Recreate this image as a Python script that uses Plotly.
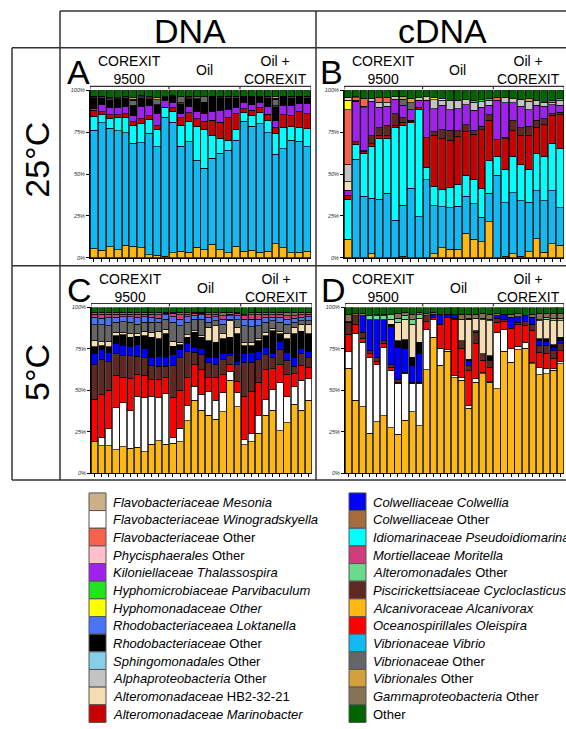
import plotly.graph_objects as go

W, H = 566, 729
FONT = "Liberation Sans, Arial, sans-serif"

# ---------------- legend / colours ----------------
LEGEND_COL1 = ["mesonia", "winogradskyella", "flavo_other", "phycisphaerales", "thalassospira",
               "parvibaculum", "hyphomonadaceae", "loktanella", "rhodo_other", "sphingomonadales",
               "alpha_other", "hb2", "marinobacter"]
LEGEND_COL2 = ["colwellia", "colwelliaceae_other", "pseudoidiomarina", "moritella", "alteromonadales_other",
               "cycloclasticus", "alcanivorax", "oleispira", "vibrio", "vibrionaceae_other",
               "vibrionales_other", "gamma_other", "other"]
LABELS = {
    "mesonia": "<i>Flavobacteriaceae Mesonia</i>",
    "winogradskyella": "<i>Flavobacteriaceae Winogradskyella</i>",
    "flavo_other": "<i>Flavobacteriaceae</i> Other",
    "phycisphaerales": "<i>Phycisphaerales</i> Other",
    "thalassospira": "<i>Kiloniellaceae Thalassospira</i>",
    "parvibaculum": "<i>Hyphomicrobiaceae Parvibaculum</i>",
    "hyphomonadaceae": "<i>Hyphomonadaceae Other</i>",
    "loktanella": "<i>Rhodobacteriaceaea Loktanella</i>",
    "rhodo_other": "<i>Rhodobacteriaceae</i> Other",
    "sphingomonadales": "<i>Sphingomonadales</i> Other",
    "alpha_other": "<i>Alphaproteobacteria</i> Other",
    "hb2": "<i>Alteromonadaceae</i> HB2-32-21",
    "marinobacter": "<i>Alteromonadaceae Marinobacter</i>",
    "colwellia": "<i>Colwelliaceae Colwellia</i>",
    "colwelliaceae_other": "<i>Colwelliaceae</i> Other",
    "pseudoidiomarina": "<i>Idiomarinaceae Pseudoidiomarina</i>",
    "moritella": "<i>Mortiellaceae Moritella</i>",
    "alteromonadales_other": "<i>Alteromonadales</i> Other",
    "cycloclasticus": "<i>Piscirickettsiaceae Cycloclasticus</i>",
    "alcanivorax": "<i>Alcanivoraceae Alcanivorax</i>",
    "oleispira": "<i>Oceanospirillales Oleispira</i>",
    "vibrio": "<i>Vibrionaceae Vibrio</i>",
    "vibrionaceae_other": "<i>Vibrionaceae</i> Other",
    "vibrionales_other": "<i>Vibrionales</i> Other",
    "gamma_other": "<i>Gammaproteobacteria</i> Other",
    "other": "Other",
}
COLORS = {
    "mesonia": "#CDAF88", "winogradskyella": "#FFFFFF", "flavo_other": "#F7634A",
    "phycisphaerales": "#FFC0CB", "thalassospira": "#A020F0", "parvibaculum": "#22E41C",
    "hyphomonadaceae": "#FFFF00", "loktanella": "#4A74F7", "rhodo_other": "#000000",
    "sphingomonadales": "#87CEEB", "alpha_other": "#C4C4C4", "hb2": "#F5DEB3",
    "marinobacter": "#C80000", "colwellia": "#0000FF", "colwelliaceae_other": "#A86B3C",
    "pseudoidiomarina": "#00FFFF", "moritella": "#D03C7C", "alteromonadales_other": "#6ADB8A",
    "cycloclasticus": "#5E2823", "alcanivorax": "#FDB813", "oleispira": "#FF0000",
    "vibrio": "#12B9F2", "vibrionaceae_other": "#666666", "vibrionales_other": "#D4A03C",
    "gamma_other": "#877258", "other": "#006400",
}
STACK_ORDER = ["alcanivorax", "vibrio", "winogradskyella", "pseudoidiomarina", "oleispira",
               "marinobacter", "cycloclasticus", "thalassospira", "colwellia", "rhodo_other",
               "hb2", "alpha_other", "vibrionaceae_other", "loktanella", "flavo_other",
               "hyphomonadaceae", "parvibaculum", "alteromonadales_other", "moritella",
               "vibrionales_other", "mesonia", "gamma_other", "colwelliaceae_other",
               "sphingomonadales", "phycisphaerales", "other"]

GROUP_LABELS = ["COREXIT<br>9500", "Oil", "Oil +<br>COREXIT"]

# ---------------- Panel A: DNA 25°C (28 samples) ----------------
A_GROUPS = [10, 9, 9]
A_ALCANIVORAX = [5.5, 4.5, 6.5, 5, 7.5, 7, 6, 2, 1.5, 1, 3, 4, 3.5, 6.5, 5, 8, 5, 3, 7, 4, 4.5, 3.5, 4, 8.5, 6, 3, 3.5, 4]
A_VIBRIO = [71, 76.5, 70.5, 71, 67.5, 62, 63, 73.5, 64, 83, 78, 63, 66.5, 52, 48.5, 51.5, 57.5, 61.5, 63.5, 77.5, 74, 76.5, 71, 54.5, 59, 67.5, 66, 62.5]
A_PSEUDOIDIOMARINA = [8.5, 5, 6, 7.5, 9, 10.5, 11.5, 8, 10.5, 6, 6.5, 12.5, 12, 20.5, 23, 13.5, 9, 6, 6.5, 5.5, 6.5, 6.5, 7.5, 12.5, 12.5, 8, 8.5, 11]
A_MARINOBACTER = [3.5, 1.5, 2, 2, 2.5, 2.5, 3, 2.5, 2, 0, 2.5, 4.5, 5.5, 4.5, 5, 9, 9.5, 13.5, 9.5, 2, 3, 3.5, 3.5, 4, 8, 7, 9.5, 9]
A_THALASSOSPIRA = [1, 4.5, 4, 4.5, 4.5, 3.5, 7.5, 6.5, 7, 4, 3, 2.5, 3.5, 4, 4.5, 5.5, 7, 5, 3.5, 4, 3.5, 3, 4.5, 4, 5.5, 6, 4.5, 6]
A_RHODO_OTHER = [6.5, 4, 5, 5, 5, 6, 5, 3.5, 5.5, 2, 3.5, 6, 5, 7.5, 7, 8.5, 7.5, 7, 6, 3, 4.5, 3, 5.5, 8.5, 5, 4.5, 4, 3.5]
A_ALPHA_OTHER = [0, 0.5, 0.5, 0, 0.5, 0.5, 0.5, 0, 0, 0, 0, 0.5, 0, 0.5, 0, 0, 0, 0.5, 0.5, 0, 0, 0, 0.5, 0.5, 0, 0.5, 0, 0.5]
A_VIBRIONACEAE_OTHER = [0.5, 0.5, 1, 0.5, 0.5, 3, 1, 0.5, 3, 0, 0.5, 3.5, 0.5, 1, 3, 0.5, 1, 0.5, 0.5, 0.5, 0.5, 0.5, 0.5, 4, 0.5, 0.5, 0.5, 0.5]
A_FLAVO_OTHER = [0.5, 0, 0, 0, 0, 0.5, 0, 0.5, 0, 0, 0, 0, 0.5, 0, 0, 0, 0, 0, 0, 0, 0, 0, 0, 0.5, 0, 0, 0, 0]
A_VIBRIONALES_OTHER = [0, 0, 0, 0, 0, 1, 0, 1, 1.5, 0, 0, 0, 0.5, 0, 0, 0, 0, 0, 0, 0, 0, 0, 0, 1, 0, 0, 0, 0]
A_OTHER = [3.5, 3.5, 4, 4.5, 3.5, 4.5, 3, 3.5, 4, 4, 3, 4, 3.5, 4, 4, 3.5, 3.5, 3.5, 3.5, 3.5, 3.5, 3.5, 3.5, 4, 3.5, 3.5, 3.5, 3.5]

# ---------------- Panel B: cDNA 25°C (28 samples) ----------------
B_GROUPS = [10, 9, 9]
B_ALCANIVORAX = [11, 0, 0, 2.5, 0, 0, 0, 1, 0, 0, 0, 2.5, 6, 5, 5, 14.5, 11, 9.5, 21.5, 0, 1, 2.5, 1, 3.5, 11.5, 3.5, 8.5, 7.5]
B_VIBRIO = [0, 59, 36.5, 33, 35, 38.5, 22.5, 30.5, 41.5, 24.5, 46.5, 28.5, 24.5, 24.5, 25.5, 22, 21, 14.5, 17, 49, 32, 36.5, 33, 29.5, 28.5, 30.5, 31.5, 22.5]
B_PSEUDOIDIOMARINA = [24, 9, 25.5, 31, 36, 33, 55, 47.5, 39, 63.5, 7.5, 11.5, 10.5, 12, 13, 12.5, 14.5, 17, 19.5, 11, 20, 21.5, 21.5, 19.5, 22, 26.5, 28.5, 35]
B_MARINOBACTER = [2.5, 1.5, 1, 1.5, 2, 1.5, 1.5, 2, 1, 1.5, 18, 30, 30.5, 28, 28, 26, 27, 35, 24, 10, 18, 15.5, 17.5, 20, 16, 19, 16.5, 20.5]
B_CYCLOCLASTICUS = [0, 0, 0.5, 5, 5, 6, 7, 2.5, 0.5, 0, 0, 2.5, 5, 6, 3.5, 4, 2, 2, 3.5, 0, 1, 6, 5, 5.5, 4, 3.5, 1, 1.5]
B_THALASSOSPIRA = [3, 24.5, 25.5, 20.5, 12, 11.5, 8.5, 7.5, 6.5, 4, 22, 13.5, 14.5, 12, 13, 12, 12, 11.5, 5.5, 23.5, 20.5, 10.5, 12.5, 10, 9, 7.5, 5.5, 4]
B_HB2 = [5, 0, 0, 0, 0, 0, 0, 0, 0, 0, 0, 0, 0, 0, 0, 0, 0, 0, 0, 0, 0, 0, 0, 0, 0, 0, 0, 0]
B_ALPHA_OTHER = [10, 0.5, 1, 1.5, 3, 2, 1.5, 0, 0, 1.5, 2, 5.5, 3, 5.5, 5, 3, 5, 3.5, 3, 0, 3, 2.5, 4, 5, 3, 2.5, 1.5, 3]
B_VIBRIONACEAE_OTHER = [0, 0, 0, 0, 0, 0, 0, 3.5, 4, 0, 0, 0, 0, 0, 0, 0, 0, 0, 0, 0, 0, 0, 0, 0, 0, 0, 0, 0]
B_FLAVO_OTHER = [33, 1.5, 4.5, 0, 2.5, 3, 0, 0, 0, 0, 0, 0, 0, 0, 0, 0, 0, 0, 0, 1.5, 0, 0, 0, 0, 0, 0, 0, 0]
B_HYPHOMONADACEAE = [5.5, 0, 0, 0, 0, 0, 0, 0, 0, 0, 0, 1, 1, 0, 0, 0, 0, 0, 0, 0, 0, 0, 0, 0, 0, 0, 0, 0]
B_PARVIBACULUM = [0, 0, 0, 0, 0, 0, 0, 0, 0, 0, 0, 0, 0, 0, 0, 0, 1, 1, 1, 0, 0, 0, 0, 0, 0, 0, 1, 1]
B_VIBRIONALES_OTHER = [0, 0, 0, 0, 0, 0, 0, 1.5, 2.5, 0, 0, 0, 0, 0, 0, 0, 0, 0, 0, 0, 0, 0, 0, 1.5, 0, 0, 0, 0]
B_PHYCISPHAERALES = [1.5, 0.5, 0, 0, 0, 0, 0, 0, 0, 0, 0, 0, 0, 0, 0, 0, 0, 0, 0, 0, 0, 0, 0, 0, 0, 0, 0, 0]
B_OTHER = [4.5, 4, 5, 5, 4.5, 4.5, 4, 4, 5, 4.5, 4, 4.5, 5, 6, 6, 5.5, 6, 5.5, 5, 4.5, 4.5, 5, 5.5, 5, 6, 7, 6, 5]

# ---------------- Panel C: DNA 5°C (31 samples) ----------------
C_GROUPS = [11, 10, 10]
C_ALCANIVORAX = [19, 16.5, 16.5, 14, 16, 15, 15.5, 13, 17.5, 19.5, 17.5, 18, 19, 31.5, 44, 38, 35, 32.5, 37, 56, 40, 17, 19, 24, 35, 38, 25.5, 30.5, 41.5, 38, 44]
C_WINOGRADSKYELLA = [0, 5, 10, 25.5, 26.5, 22.5, 31, 32.5, 29, 26, 30.5, 3.5, 8, 9.5, 8.5, 9.5, 14, 11.5, 11.5, 5.5, 8.5, 3.5, 5, 11, 9.5, 12.5, 29, 15.5, 10.5, 18, 13]
C_OLEISPIRA = [25.5, 25.5, 23, 19.5, 15.5, 19.5, 13, 13.5, 10, 11, 9.5, 24, 23, 17, 13, 15, 8.5, 13.5, 11, 4, 7, 26, 25, 20, 18, 12.5, 11, 13.5, 8, 9, 6.5]
C_CYCLOCLASTICUS = [20.5, 21.5, 17.5, 13.5, 13, 14, 11, 10.5, 8.5, 8, 7, 19.5, 19.5, 15.5, 7.5, 9, 9, 8, 9, 5.5, 10, 20, 18, 13.5, 9, 6.5, 9, 8.5, 4.5, 7.5, 6.5]
C_COLWELLIA = [7, 5.5, 5.5, 5.5, 6, 5.5, 7, 5.5, 5, 6, 5, 6.5, 5, 5, 3, 4, 3.5, 4, 3.5, 1.5, 2, 6, 6, 5, 4.5, 3, 5, 5, 5.5, 3, 3.5]
C_RHODO_OTHER = [4, 2.5, 3.5, 5, 6.5, 5.5, 5, 8, 12, 10.5, 14.5, 5, 3, 3.5, 9, 6.5, 10, 9.5, 9, 9.5, 16.5, 4.5, 4, 6.5, 7, 13.5, 4.5, 8, 14, 10, 10.5]
C_HB2 = [3.5, 2.5, 3, 2, 1.5, 2, 1.5, 2.5, 3, 4.5, 3, 3, 1.5, 1.5, 1, 1, 8, 10, 3, 10, 4, 2, 2, 1, 2, 1.5, 1.5, 3.5, 4, 4.5, 6]
C_VIBRIONACEAE_OTHER = [9.5, 10, 9.5, 6, 6.5, 7, 6, 5.5, 6, 5.5, 6, 11.5, 10, 7.5, 7, 10, 3, 3, 6, 1, 4.5, 10, 9.5, 8, 6, 4.5, 5.5, 5.5, 3, 2, 2]
C_LOKTANELLA = [4.5, 4, 5, 3, 3, 3.5, 4, 3.5, 3, 2.5, 2.5, 3.5, 4, 3.5, 2, 2.5, 3, 2.5, 3, 2, 2.5, 4, 4.5, 4, 3, 2, 3, 3, 2.5, 2, 2.5]
C_MORITELLA = [2, 2.5, 2, 2, 1.5, 1.5, 2, 1.5, 2, 2, 1, 2, 2.5, 1.5, 1.5, 1, 1.5, 1.5, 2, 1, 1.5, 2, 2.5, 2.5, 2, 1.5, 2, 2, 1.5, 1.5, 1.5]
C_GAMMA_OTHER = [1, 1, 1, 1, 1, 1, 1, 1, 1, 1.5, 0.5, 0.5, 1.5, 1, 0.5, 0.5, 1.5, 1, 2, 1, 0.5, 1, 1.5, 1.5, 1, 1.5, 1, 2, 2, 1.5, 1]
C_OTHER = [3, 3, 3, 3, 3, 3, 3, 3, 3, 3, 3, 3, 3, 3, 3, 3, 3, 3, 3, 3, 3, 4, 3, 3, 3, 3, 3, 3, 3, 3, 3]

# ---------------- Panel D: cDNA 5°C (31 samples) ----------------
D_GROUPS = [11, 10, 10]
D_ALCANIVORAX = [63, 44, 40, 24, 31, 34.5, 27.5, 23.5, 32, 37, 28.5, 62.5, 82, 65, 73.5, 57.5, 56, 39, 55, 60, 55, 51, 73.5, 67, 74.5, 75.5, 66, 59.5, 60, 62, 66]
D_WINOGRADSKYELLA = [10, 40.5, 39, 46, 34.5, 41.5, 34.5, 30.5, 28, 17, 25.5, 24, 10.5, 10.5, 1, 1.5, 1.5, 1.5, 2, 0.5, 0.5, 34, 13, 8, 2, 3.5, 1, 4, 3, 1, 1.5]
D_OLEISPIRA = [10.5, 5.5, 2.5, 2, 2, 2, 2, 1, 0, 0, 0, 5, 1.5, 14.5, 19.5, 34, 17.5, 21, 21, 7.5, 8.5, 6, 5, 12.5, 13.5, 10, 19, 9.5, 9.5, 6, 6.5]
D_CYCLOCLASTICUS = [7, 5, 3.5, 2, 2, 2, 1.5, 1.5, 1, 1, 1, 3.5, 0, 0, 0, 0.5, 5, 3, 7, 4, 4, 2.5, 1.5, 0, 1, 2.5, 4, 4, 4.5, 5, 4]
D_COLWELLIA = [0, 0, 10, 18.5, 23, 12.5, 23, 19.5, 14.5, 10, 17.5, 0, 2, 5.5, 2, 2, 0, 3, 1, 0, 0, 1.5, 3, 6.5, 3.5, 3.5, 4, 3, 2.5, 2, 2]
D_RHODO_OTHER = [0, 0, 0, 0, 0, 0, 1.5, 4, 5, 5, 6.5, 0, 0, 0, 0, 0, 0, 1, 0, 0, 3, 0, 0, 0, 0, 0, 0, 1, 1.5, 1.5, 2]
D_HB2 = [0.5, 0, 0, 0, 0, 0, 3, 11, 12.5, 20, 14.5, 0, 0, 0, 0, 0, 13, 24, 7.5, 20.5, 21, 0, 0, 0, 0, 0, 0, 11, 12, 14.5, 10]
D_ALTEROMONADALES_OTHER = [0, 0, 0, 2.5, 2.5, 2.5, 3, 2.5, 2, 2.5, 2, 0, 0, 0, 0, 0, 0, 0.5, 0, 1, 1, 0, 0, 0, 0, 0, 0, 0.5, 1, 1.5, 1.5]
D_GAMMA_OTHER = [4, 1.5, 1.5, 0, 0.5, 1, 0, 3, 2, 3, 1.5, 1.5, 1, 0, 0, 0, 3, 2.5, 2.5, 3, 3, 1.5, 0, 2, 2, 0, 2, 4, 2.5, 3, 3]
D_OTHER = [4.5, 3.5, 3.5, 5, 4.5, 4, 4, 3.5, 3, 4.5, 3, 3.5, 3, 4.5, 4, 4.5, 4, 4, 4, 3.5, 4, 3.5, 4, 4, 3.5, 5, 4, 3.5, 3.5, 3.5, 3.5]

PANELS = [
    dict(letter="A", groups=A_GROUPS, box=(90, 88, 311, 257), data={
        "alcanivorax": A_ALCANIVORAX, "vibrio": A_VIBRIO, "pseudoidiomarina": A_PSEUDOIDIOMARINA,
        "marinobacter": A_MARINOBACTER, "thalassospira": A_THALASSOSPIRA, "rhodo_other": A_RHODO_OTHER,
        "alpha_other": A_ALPHA_OTHER, "vibrionaceae_other": A_VIBRIONACEAE_OTHER,
        "flavo_other": A_FLAVO_OTHER, "vibrionales_other": A_VIBRIONALES_OTHER, "other": A_OTHER}),
    dict(letter="B", groups=B_GROUPS, box=(344, 88, 564, 257), data={
        "alcanivorax": B_ALCANIVORAX, "vibrio": B_VIBRIO, "pseudoidiomarina": B_PSEUDOIDIOMARINA,
        "marinobacter": B_MARINOBACTER, "cycloclasticus": B_CYCLOCLASTICUS, "thalassospira": B_THALASSOSPIRA,
        "hb2": B_HB2, "alpha_other": B_ALPHA_OTHER, "vibrionaceae_other": B_VIBRIONACEAE_OTHER,
        "flavo_other": B_FLAVO_OTHER, "hyphomonadaceae": B_HYPHOMONADACEAE, "parvibaculum": B_PARVIBACULUM,
        "vibrionales_other": B_VIBRIONALES_OTHER, "phycisphaerales": B_PHYCISPHAERALES, "other": B_OTHER}),
    dict(letter="C", groups=C_GROUPS, box=(91, 307, 312, 474), data={
        "alcanivorax": C_ALCANIVORAX, "winogradskyella": C_WINOGRADSKYELLA, "oleispira": C_OLEISPIRA,
        "cycloclasticus": C_CYCLOCLASTICUS, "colwellia": C_COLWELLIA, "rhodo_other": C_RHODO_OTHER,
        "hb2": C_HB2, "vibrionaceae_other": C_VIBRIONACEAE_OTHER, "loktanella": C_LOKTANELLA,
        "moritella": C_MORITELLA, "gamma_other": C_GAMMA_OTHER, "other": C_OTHER}),
    dict(letter="D", groups=D_GROUPS, box=(345, 307, 564, 474), data={
        "alcanivorax": D_ALCANIVORAX, "winogradskyella": D_WINOGRADSKYELLA, "oleispira": D_OLEISPIRA,
        "cycloclasticus": D_CYCLOCLASTICUS, "colwellia": D_COLWELLIA, "rhodo_other": D_RHODO_OTHER,
        "hb2": D_HB2, "alteromonadales_other": D_ALTEROMONADALES_OTHER, "gamma_other": D_GAMMA_OTHER,
        "other": D_OTHER}),
]


def px(x):
    return x / W


def py(y):
    return 1 - y / H


fig = go.Figure()
layout = dict(
    width=W, height=H, margin=dict(l=0, r=0, t=0, b=0),
    paper_bgcolor="white", plot_bgcolor="white",
    barmode="stack", barnorm="percent", bargap=0.12,
    showlegend=False, font=dict(family=FONT, color="black"),
)
shapes = []
annotations = []

for i, p in enumerate(PANELS):
    sfx = "" if i == 0 else str(i + 1)
    xa, ya = "x" + sfx, "y" + sfx
    x0, y0, x1, y1 = p["box"]
    n = sum(p["groups"])
    for key in STACK_ORDER:
        if key not in p["data"]:
            continue
        vals = p["data"][key]
        fig.add_trace(go.Bar(
            x=list(range(n)), y=[v if v > 0 else None for v in vals],
            xaxis=xa, yaxis=ya, name=key, hoverinfo="skip",
            marker=dict(color=COLORS[key], line=dict(color="black", width=0.7)),
        ))
    layout["xaxis" + sfx] = dict(
        domain=[px(x0), px(x1)], anchor=ya, range=[-0.5, n - 0.5],
        showticklabels=False, ticks="outside", ticklen=3, tickwidth=1, tickcolor="black",
        tickvals=list(range(n)), showline=True, linecolor="black", linewidth=1,
        showgrid=False, zeroline=False, fixedrange=True)
    layout["yaxis" + sfx] = dict(
        domain=[py(y1), py(y0)], anchor=xa, range=[0, 100],
        tickvals=[0, 25, 50, 75, 100], ticktext=["0%", "25%", "50%", "75%", "100%"],
        tickfont=dict(size=5.5, family=FONT, style="italic", color="#333"),
        ticks="outside", ticklen=3, tickwidth=1, tickcolor="black",
        showline=True, linecolor="black", linewidth=1,
        showgrid=False, zeroline=False, fixedrange=True)

    # group bracket above the plot
    by = py(y0 - 4)
    bounds = [-0.5]
    for g in p["groups"]:
        bounds.append(bounds[-1] + g)
    shapes.append(dict(type="line", xref=xa, yref="paper", x0=bounds[0], x1=bounds[-1],
                       y0=by, y1=by, line=dict(color="#333", width=1.2)))
    for b in bounds:
        shapes.append(dict(type="line", xref=xa, yref="paper", x0=b, x1=b,
                           y0=by, y1=py(y0 - 1), line=dict(color="#333", width=1.2)))
    for gi, label in enumerate(GROUP_LABELS):
        cx = (bounds[gi] + bounds[gi + 1]) / 2
        annotations.append(dict(text=label, xref=xa, yref="paper", x=cx, y=py(y0 - 20),
                                xanchor="center", yanchor="middle", showarrow=False,
                                font=dict(size=14, family=FONT), align="center"))
    # panel letter
    annotations.append(dict(text=p["letter"], xref="paper", yref="paper",
                            x=px(x0 - 12), y=py(y0 - 18), xanchor="center", yanchor="middle",
                            showarrow=False, font=dict(size=34, family=FONT)))

# headers and row labels
annotations.append(dict(text="DNA", xref="paper", yref="paper", x=px(190), y=py(28),
                        xanchor="center", yanchor="middle", showarrow=False,
                        font=dict(size=34, family=FONT)))
annotations.append(dict(text="cDNA", xref="paper", yref="paper", x=px(442), y=py(28),
                        xanchor="center", yanchor="middle", showarrow=False,
                        font=dict(size=34, family=FONT)))
annotations.append(dict(text="25°C", xref="paper", yref="paper", x=px(37), y=py(158),
                        xanchor="center", yanchor="middle", showarrow=False, textangle=-90,
                        font=dict(size=34, family=FONT)))
annotations.append(dict(text="5°C", xref="paper", yref="paper", x=px(37), y=py(373),
                        xanchor="center", yanchor="middle", showarrow=False, textangle=-90,
                        font=dict(size=34, family=FONT)))

# table borders
BORDER = dict(color="#333", width=1.5)
for (xa_, ya_, xb_, yb_) in [(60, 8, 566, 8), (12, 45, 566, 45), (12, 265, 566, 265),
                             (12, 481, 566, 481), (12, 45, 12, 481), (60, 8, 60, 481),
                             (316, 8, 316, 481)]:
    shapes.append(dict(type="line", xref="paper", yref="paper", x0=px(xa_), x1=px(xb_),
                       y0=py(ya_), y1=py(yb_), line=BORDER))

# legend (two columns)
ROW_H = 17.8
TOP = 494
for col, keys, sx, tx in [(0, LEGEND_COL1, 89, 111), (1, LEGEND_COL2, 349, 371)]:
    for r, key in enumerate(keys):
        ya_ = TOP + r * ROW_H
        shapes.append(dict(type="rect", xref="paper", yref="paper",
                           x0=px(sx), x1=px(sx + 17), y0=py(ya_ + ROW_H), y1=py(ya_),
                           fillcolor=COLORS[key], line=dict(color="#555", width=1)))
        annotations.append(dict(text=LABELS[key], xref="paper", yref="paper",
                                x=px(tx), y=py(ya_ + ROW_H / 2 + 0.5), xanchor="left", yanchor="middle",
                                showarrow=False, font=dict(size=13, family=FONT)))

layout["shapes"] = shapes
layout["annotations"] = annotations
fig.update_layout(**layout)
fig.write_html("out.html", config={"displayModeBar": False},
               post_script="document.body.style.margin='0';document.body.style.padding='0';"
                           "document.body.style.overflow='hidden';")
